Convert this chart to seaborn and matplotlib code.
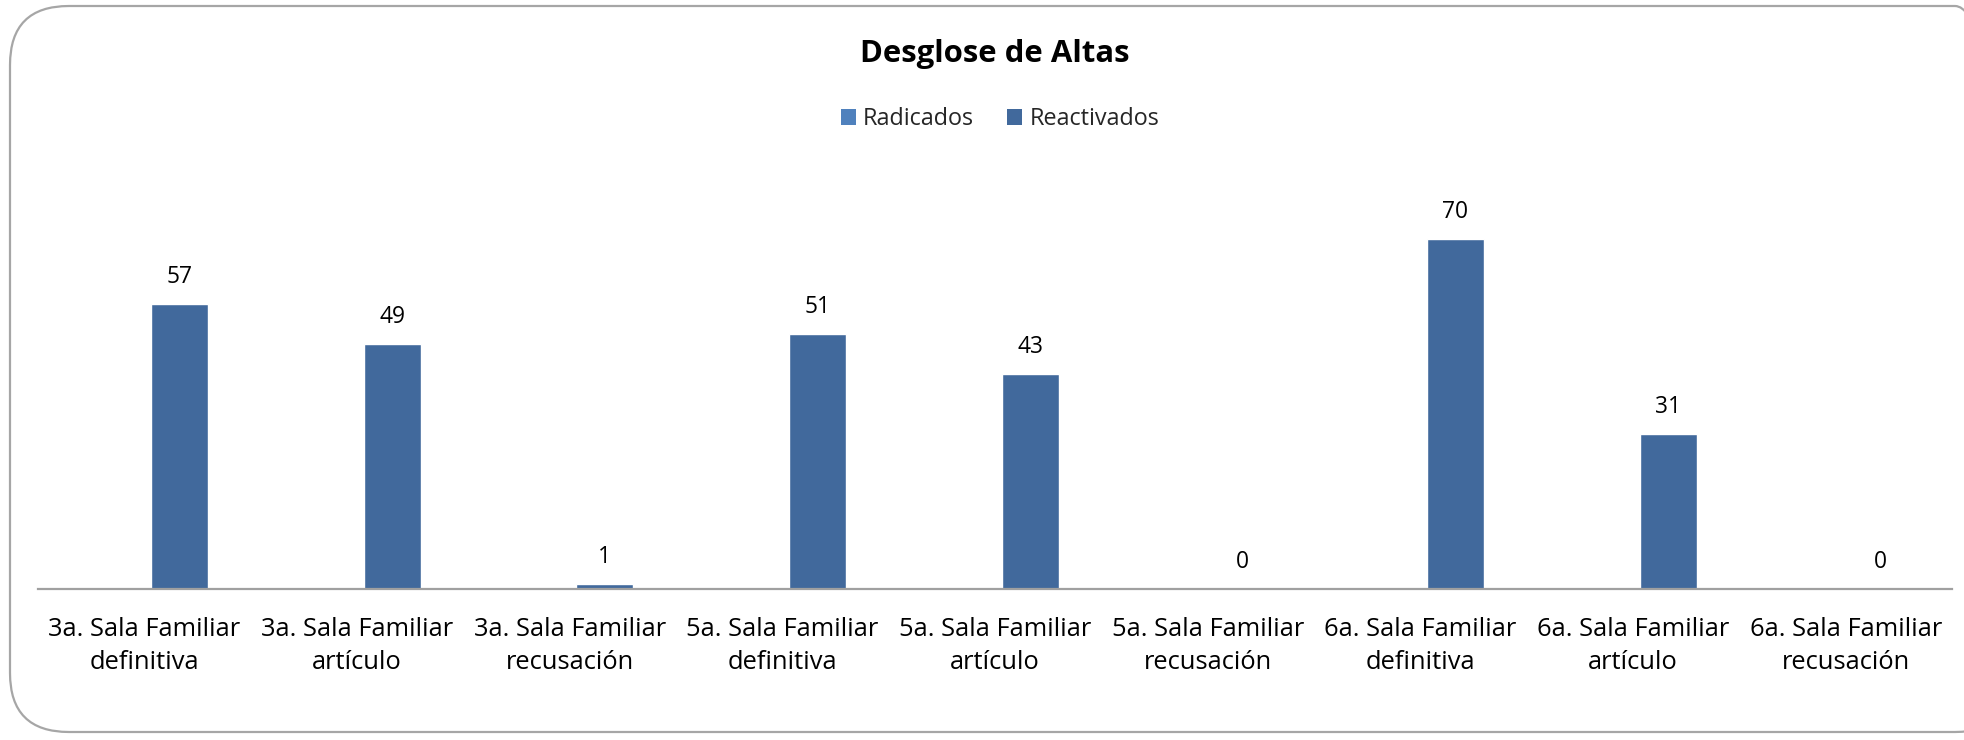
import matplotlib
matplotlib.use("Agg")
import matplotlib.pyplot as plt
import seaborn as sns
import pandas as pd
from matplotlib.patches import FancyBboxPatch, Patch

categories = [
    "3a. Sala Familiar\ndefinitiva", "3a. Sala Familiar\nartículo", "3a. Sala Familiar\nrecusación",
    "5a. Sala Familiar\ndefinitiva", "5a. Sala Familiar\nartículo", "5a. Sala Familiar\nrecusación",
    "6a. Sala Familiar\ndefinitiva", "6a. Sala Familiar\nartículo", "6a. Sala Familiar\nrecusación",
]
radicados = [0, 0, 0, 0, 0, 0, 0, 0, 0]
reactivados = [57, 49, 1, 51, 43, 0, 70, 31, 0]
series_names = ["Radicados", "Reactivados"]
series_colors = ["#4F81BD", "#41699C"]
title = "Desglose de Altas"

df = pd.DataFrame({
    "cat": categories * 2,
    "serie": [series_names[0]] * len(categories) + [series_names[1]] * len(categories),
    "val": radicados + reactivados,
})

sns.set_theme(style="white")
FONT = ["Open Sans", "DejaVu Sans"]
plt.rcParams["font.family"] = FONT

W, H = 1964, 740
fig = plt.figure(figsize=(W / 100, H / 100), dpi=100)
renderer = fig.canvas.get_renderer()


def fit_size(text, target_px, weight="normal", base=20):
    t = fig.text(0, 0, text, fontsize=base, fontweight=weight)
    w = t.get_window_extent(renderer).width
    t.remove()
    return base * target_px / w


tick_fs = fit_size("3a. Sala Familiar", 192)
leg_fs = fit_size("Radicados", 111)
title_fs = fit_size(title, 270, weight="bold")
lab_fs = fit_size("57", 26)

# rounded chart frame
frame = FancyBboxPatch((10 / W, 8 / H), (W + 40) / W, (H - 14) / H,
                       boxstyle="round,pad=0,rounding_size=0.03",
                       transform=fig.transFigure, fill=False,
                       edgecolor="#A6A6A6", linewidth=1.6, mutation_aspect=W / H)
fig.patches.append(frame)

ax = fig.add_axes([38 / W, (H - 589) / H, (1952 - 38) / W, 400 / H])
sns.barplot(data=df, x="cat", y="val", hue="serie", palette=series_colors,
            width=0.66, gap=0.19, ax=ax, legend=False, saturation=1, errorbar=None)
ax.set_ylim(0, 80)
ax.set_xlim(-0.5, len(categories) - 0.5)
ax.set_xlabel("")
ax.set_ylabel("")
ax.set_yticks([])
for s in ["top", "right", "left"]:
    ax.spines[s].set_visible(False)
ax.spines["bottom"].set_color("#A0A0A0")
ax.spines["bottom"].set_linewidth(1.6)
ax.tick_params(axis="x", length=0, pad=20, labelsize=tick_fs, colors="black")
for t in ax.get_xticklabels():
    t.set_linespacing(1.42)

ax.bar_label(ax.containers[1], padding=11, fontsize=lab_fs, color="black")

fig.text(995 / W, 1 - 54 / H, title, ha="center", va="center",
         fontsize=title_fs, fontweight="bold", color="black")
handles = [Patch(facecolor=c, edgecolor="none") for c in series_colors]
fig.legend(handles, series_names, loc="center", bbox_to_anchor=(1000 / W, 1 - 119 / H),
           ncol=2, frameon=False, fontsize=leg_fs, handlelength=0.65, handleheight=0.65,
           handletextpad=0.3, columnspacing=1.4)

fig.savefig("out.png", dpi=100)
